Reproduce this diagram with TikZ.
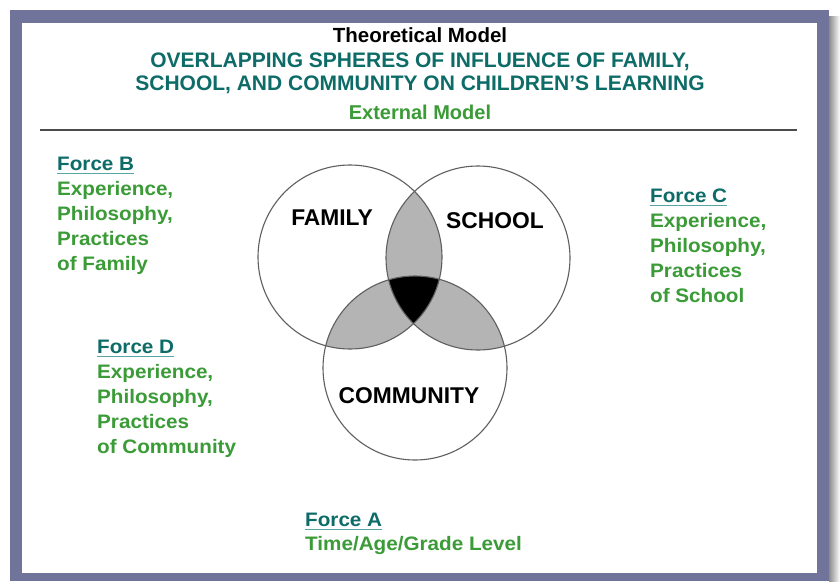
\documentclass[tikz,border=0pt]{standalone}
\usepackage{fontspec}
\setmainfont{Liberation Sans}
\newfontfamily\forcefont[FakeStretch=1.06]{Liberation Sans}
\definecolor{framecol}{RGB}{112,116,155}
\definecolor{tealtext}{RGB}{14,108,104}
\definecolor{greentext}{RGB}{58,155,55}
\definecolor{ulinecol}{RGB}{88,165,165}
\definecolor{venngray}{RGB}{180,180,180}
\definecolor{ringcol}{RGB}{95,95,95}
\begin{document}
\begin{tikzpicture}[x=1pt,y=-1pt,
  titleblack/.style={font=\fontsize{20.5}{24}\selectfont\bfseries, text=black, inner sep=0, anchor=base},
  titleteal/.style={font=\fontsize{21}{24}\selectfont\bfseries, text=tealtext, inner sep=0, anchor=base},
  titlegreen/.style={font=\fontsize{20}{24}\selectfont\bfseries, text=greentext, inner sep=0, anchor=base},
  vennlabel/.style={font=\fontsize{22.8}{26}\selectfont\bfseries, text=black, inner sep=0},
  forcehead/.style={font=\forcefont\fontsize{19.5}{23}\selectfont\bfseries, text=tealtext, inner sep=0, anchor=base west},
  forcebody/.style={font=\forcefont\fontsize{19.5}{23}\selectfont\bfseries, text=greentext, inner sep=0, anchor=base west},
  uline/.style={draw=ulinecol, line width=1.6pt},
  ring/.style={circle, draw=ringcol, line width=1.1pt, minimum size=184pt, inner sep=0}
]
\useasboundingbox (0,0) rectangle (840,581);
\fill[white] (0,0) rectangle (840,581);
% shadow and frame
\shade[left color=black!45, right color=white] (829,16) rectangle (840,581);
\fill[framecol] (10,10) rectangle (829,581);
\fill[white] (22,23) rectangle (817,573);

% titles
\node[titleblack] (t1) at (420,42) {Theoretical Model};
\node[titleteal] (t2) at (420,67) {OVERLAPPING SPHERES OF INFLUENCE OF FAMILY,};
\node[titleteal] (t3) at (420,90) {SCHOOL, AND COMMUNITY ON CHILDREN’S LEARNING};
\node[titlegreen] (t4) at (420,119) {External Model};
\coordinate (rl) at (40,130);
\coordinate (rr) at (797,130);
\draw[draw=black!70, line width=2pt] (rl) -- (rr);

% venn
\coordinate (cF) at (350,257);
\coordinate (cS) at (478,258);
\coordinate (cC) at (415,368);
\begin{scope}
  \clip (cF) circle[radius=92];
  \fill[venngray] (cS) circle[radius=92];
  \fill[venngray] (cC) circle[radius=92];
\end{scope}
\begin{scope}
  \clip (cS) circle[radius=92];
  \fill[venngray] (cC) circle[radius=92];
\end{scope}
\begin{scope}
  \clip (cF) circle[radius=92];
  \clip (cS) circle[radius=92];
  \fill[black] (cC) circle[radius=92];
\end{scope}
\node[ring] (family) at (cF) {};
\node[ring] (school) at (cS) {};
\node[ring] (community) at (cC) {};
\node[vennlabel] (lfam) at (332,218) {FAMILY};
\node[vennlabel] (lsch) at (495,221) {SCHOOL};
\node[vennlabel] (lcom) at (409,396) {COMMUNITY};

% Force B
\node[forcehead] (fBh) at (57,170) {Force B};
\draw[uline] ([yshift=-3.5pt]fBh.base west) -- ([yshift=-3.5pt]fBh.base east);
\foreach \t [count=\i] in {{Experience,},{Philosophy,},{Practices},{of Family}}
  \node[forcebody] (fB\i) at (57,170+25.2*\i) {\t};

% Force C
\node[forcehead] (fCh) at (650,202) {Force C};
\draw[uline] ([yshift=-3.5pt]fCh.base west) -- ([yshift=-3.5pt]fCh.base east);
\foreach \t [count=\i] in {{Experience,},{Philosophy,},{Practices},{of School}}
  \node[forcebody] (fC\i) at (650,202+25.2*\i) {\t};

% Force D
\node[forcehead] (fDh) at (97,353) {Force D};
\draw[uline] ([yshift=-3.5pt]fDh.base west) -- ([yshift=-3.5pt]fDh.base east);
\foreach \t [count=\i] in {{Experience,},{Philosophy,},{Practices},{of Community}}
  \node[forcebody] (fD\i) at (97,353+25.2*\i) {\t};

% Force A
\node[forcehead] (fAh) at (305,526) {Force A};
\draw[uline] ([yshift=-3.5pt]fAh.base west) -- ([yshift=-3.5pt]fAh.base east);
\node[forcebody] (fA1) at (305,550) {Time/Age/Grade Level};
\end{tikzpicture}
\end{document}
